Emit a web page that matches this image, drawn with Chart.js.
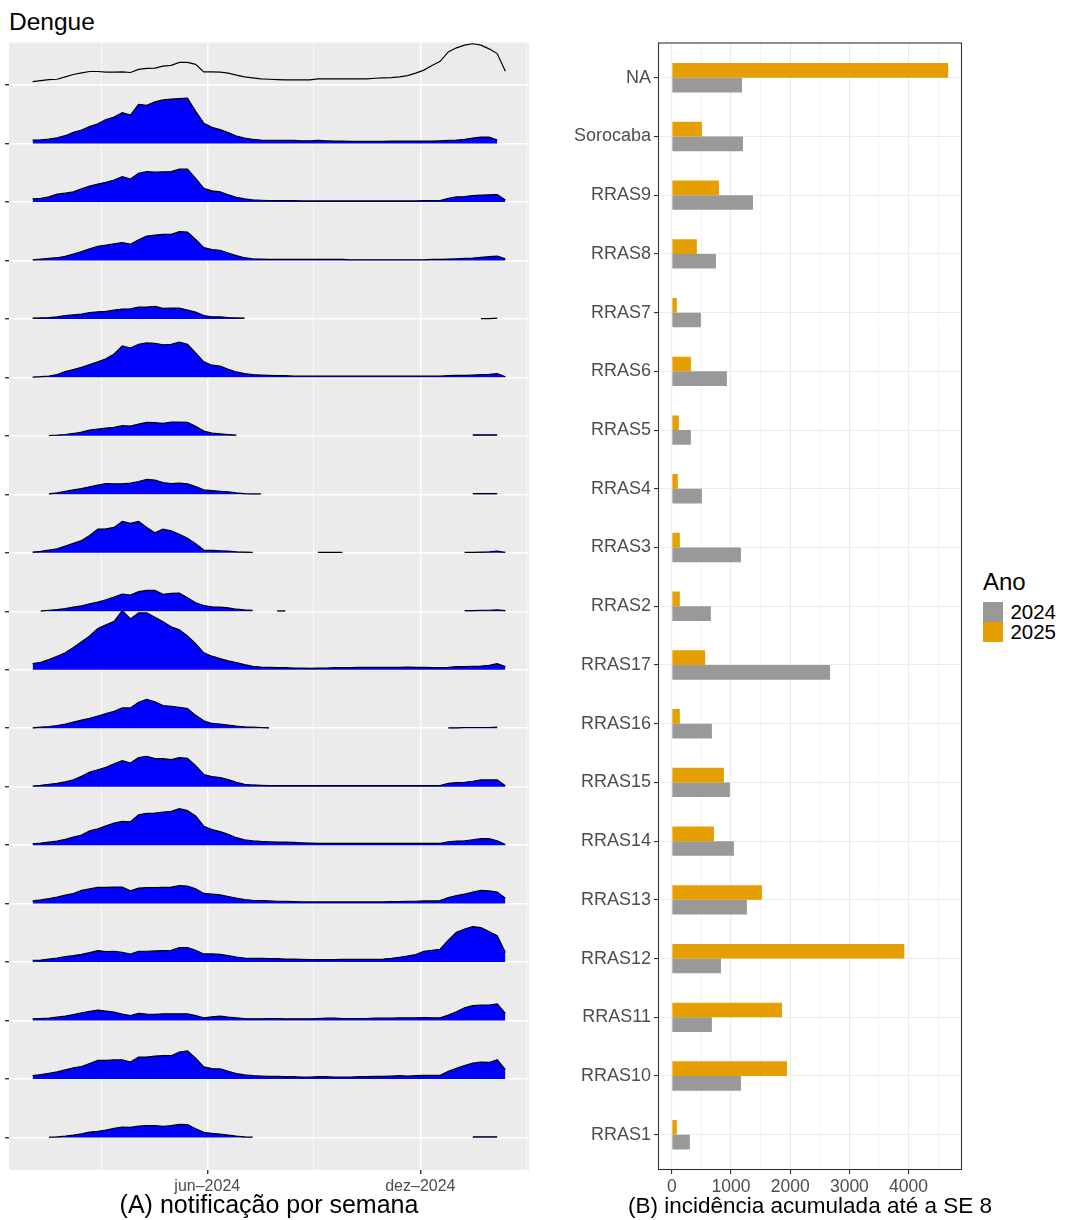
<!DOCTYPE html>
<html lang="pt-BR">
<head>
<meta charset="utf-8">
<title>Dengue</title>
<script src="https://cdn.jsdelivr.net/npm/chart.js@4.4.1/dist/chart.umd.min.js"></script>
<style>
  html, body { margin: 0; padding: 0; background: #ffffff; }
  body { width: 1065px; height: 1220px; position: relative; overflow: hidden;
         font-family: "Liberation Sans", Arial, Helvetica, sans-serif; }
  #title { position: absolute; left: 9px; top: 10.4px; font-size: 24.5px; line-height: 24.5px; color: #000; }
  #ridges { position: absolute; left: 0; top: 0; }
  #bars { position: absolute; left: 540px; top: 0; }
  #barsTitle { position: absolute; left: 510px; width: 600px; top: 1195px; text-align: center;
               font-size: 22.5px; line-height: 22.5px; color: #000; white-space: nowrap; }
  #legend { position: absolute; left: 983px; top: 570px; color: #000; }
  #legend .ltitle { font-size: 24px; line-height: 24px; margin-bottom: 7.9px; }
  #legend .item { display: flex; align-items: center; height: 20.3px; }
  #legend .key { width: 20px; height: 20px; margin-right: 7.4px; }
  #legend .lab { font-size: 20.5px; line-height: 20.3px; }
</style>
</head>
<body>
<div id="title">Dengue</div>
<canvas id="ridges" width="540" height="1220"></canvas>
<canvas id="bars" width="430" height="1220"></canvas>
<div id="barsTitle">(B) incidência acumulada até a SE 8</div>
<div id="legend"></div>
<script>
// Regions, top to bottom
const regions = ['NA', 'Sorocaba', 'RRAS9', 'RRAS8', 'RRAS7', 'RRAS6', 'RRAS5', 'RRAS4', 'RRAS3', 'RRAS2',
                 'RRAS17', 'RRAS16', 'RRAS15', 'RRAS14', 'RRAS13', 'RRAS12', 'RRAS11', 'RRAS10', 'RRAS1'];

// Cumulative incidence up to epidemiological week 8
const incid2024 = [1185, 1202, 1371, 745, 491, 931, 322, 508, 1168, 660, 2674, 677, 981, 1049, 1269, 830, 677, 1168, 305];
const incid2025 = [4669, 508, 796, 423, 85, 322, 119, 102, 135, 135, 564, 135, 880, 711, 1523, 3928, 1861, 1946, 85];
const incBreaks = [0, 1000, 2000, 3000, 4000];

// Weekly notifications (relative scale), first week centred on 2024-01-03
const firstWeek = '2024-01-03';
const dateBreaks = ['2024-06-01', '2024-12-01'];
const dateLabels = ['jun\u20132024', 'dez\u20132024'];
const _ = null;

const wNA = [10,13,16,17,24,31,36,40,40,38, 38,39,37,46,49,50,56,58,67,67, 61,39,39,38,35,29,24,21,18,17,
             16,15,15,15,15,18,18,18,18,18, 18,18,20,21,22,24,28,35,44,58, 70,98,110,118,122,118,107,93,41];
const wSorocaba = [10,11,13,17,23,33,40,50,58,71, 78,91,84,116,113,123,129,131,133,134, 95,60,48,41,32,22,16,12,10,9,
             9,9,9,8,8,9,8,7,7,6, 6,6,6,6,7,7,7,7,7,7, 8,9,10,12,16,19,19,10,_];
const wRRAS9 = [9,11,15,23,26,30,39,47,53,58, 65,75,68,85,90,88,89,90,97,97, 70,40,33,30,21,14,9,6,5,4,
             4,4,4,3,3,3,3,3,3,3, 3,3,3,3,3,3,3,3,4,4, 4,11,15,16,19,20,21,22,6];
const wRRAS8 = [2,4,6,8,12,19,26,34,42,45, 49,53,48,61,72,75,77,77,85,84, 62,38,32,30,22,14,8,5,4,3,
             3,3,3,3,3,3,3,3,3,2, 2,2,2,2,2,2,2,2,2,3, 3,4,5,6,7,9,11,13,5];
const wRRAS7 = [2,3,4,6,10,12,14,19,21,22, 26,29,30,35,35,37,31,32,32,26, 20,10,6,6,4,3,2,_,_,_,
             _,_,_,_,_,_,_,_,_,_, _,_,_,_,_,_,_,_,_,_, _,_,_,_,_,1,1,2,_];
const wRRAS6 = [1,2,4,8,17,23,30,38,46,55, 69,93,87,98,102,101,96,98,104,98, 72,46,36,33,24,16,11,8,7,6,
             5,5,4,4,4,4,4,4,4,4, 4,4,4,4,4,4,4,4,4,4, 4,5,6,6,7,8,9,11,2];
const wRRAS5 = [_,_,1,2,4,7,11,17,20,23, 25,30,29,35,40,39,37,41,41,40, 28,14,8,6,4,2,_,_,_,_,
             _,_,_,_,_,_,_,_,_,_, _,_,_,_,_,_,_,_,_,_, _,_,_,_,3,3,3,3,_];
const wRRAS4 = [_,_,1,4,9,13,17,22,27,32, 31,31,33,38,44,42,35,32,33,31, 23,13,11,9,7,4,2,1,1,_,
             _,_,_,_,_,_,_,_,_,_, _,_,_,_,_,_,_,_,_,_, _,_,_,_,2,2,2,2,_];
const wRRAS3 = [2,4,8,12,20,28,36,51,70,71, 75,93,87,93,75,59,70,65,55,43, 27,8,7,6,5,3,2,1,_,_,
             _,_,_,_,_,1,1,1,1,_, _,_,_,_,_,_,_,_,_,_, _,_,_,1,1,2,3,5,1];
const wRRAS2 = [_,1,3,5,8,12,16,22,27,34, 42,51,48,58,62,62,50,53,54,40, 25,17,13,12,10,6,4,3,_,_,
             1,1,_,_,_,_,_,_,_,_, _,_,_,_,_,_,_,_,_,_, _,_,_,2,2,3,3,4,2];
const wRRAS17 = [18,22,30,40,50,66,83,100,122,133, 143,175,150,168,168,155,142,127,118,100, 77,50,40,33,26,21,15,10,8,7,
             6,6,5,5,4,5,5,6,6,6, 7,7,7,7,7,7,8,7,7,6, 6,7,9,9,10,11,13,18,9];
const wRRAS16 = [1,3,5,8,12,18,24,29,36,43, 50,60,60,77,85,78,67,65,62,58, 38,22,14,12,9,6,4,3,2,1,
             _,_,_,_,_,_,_,_,_,_, _,_,_,_,_,_,_,_,_,_, _,1,1,2,2,2,2,3,_];
const wRRAS15 = [2,4,7,10,14,20,31,43,50,57, 68,77,70,86,90,83,83,80,86,84, 62,36,30,27,21,13,7,5,4,3,
             3,3,3,3,3,3,3,3,3,3, 3,3,3,3,3,3,3,3,3,3, 3,10,12,13,16,20,20,20,3];
const wRRAS14 = [4,6,9,12,17,24,30,42,48,57, 65,70,69,90,94,95,98,100,108,102, 86,56,46,40,32,22,16,13,11,10,
             9,9,8,7,6,5,5,5,5,5, 5,5,5,5,5,5,5,5,5,5, 5,10,12,13,16,19,19,13,2];
const wRRAS13 = [8,11,15,19,25,30,39,44,48,48, 49,49,38,46,47,47,48,49,53,52, 44,30,28,26,21,16,12,10,9,8,
             7,7,6,5,5,5,5,5,5,5, 5,5,5,5,6,6,7,7,8,8, 9,18,24,28,34,39,38,34,16];
const wRRAS12 = [5,6,9,12,16,19,23,28,34,31, 32,29,24,32,32,33,34,35,43,43, 35,24,24,23,19,15,12,11,11,10,
             10,9,9,8,7,7,7,7,8,8, 8,8,8,9,11,14,18,22,32,35, 38,65,88,98,105,102,90,78,28];
const wRRAS11 = [5,6,7,10,13,18,23,27,31,28, 25,19,15,21,19,18,20,20,20,20, 15,8,11,13,10,8,6,5,5,6,
             6,5,5,5,5,6,7,7,6,6, 6,6,7,7,7,8,8,8,9,8, 8,16,26,38,44,46,46,49,21];
const wRRAS10 = [10,13,17,21,27,33,37,46,55,55, 57,57,50,65,65,68,69,69,80,83, 62,36,31,30,23,16,12,10,9,8,
             8,7,7,6,6,7,7,6,6,6, 7,7,8,8,9,10,9,10,11,11, 11,23,32,40,47,50,49,57,28];
const wRRAS1 = [_,_,1,2,4,7,11,16,18,22, 27,31,30,34,35,35,33,35,39,38, 26,15,12,10,7,4,2,1,_,_,
             _,_,_,_,_,_,_,_,_,_, _,_,_,_,_,_,_,_,_,_, _,_,_,_,2,2,2,2,_];

// Same order as `regions`
const ridgeSeries = [wNA, wSorocaba, wRRAS9, wRRAS8, wRRAS7, wRRAS6, wRRAS5, wRRAS4, wRRAS3, wRRAS2,
                     wRRAS17, wRRAS16, wRRAS15, wRRAS14, wRRAS13, wRRAS12, wRRAS11, wRRAS10, wRRAS1];

// Weekly value that spans one row of the ridgeline panel
const ROW_SCALE = 173;

const FONT = '"Liberation Sans", Arial, Helvetica, sans-serif';
Chart.defaults.font.family = FONT;

const DAY_MS = 86400000;
const dayOf = iso => Math.round((Date.parse(iso) - Date.parse('2024-01-01')) / DAY_MS);
const weekDays = wNA.map((v, k) => dayOf(firstWeek) + 7 * k);
const majorDays = dateBreaks.map(dayOf);
const majorStep = majorDays[1] - majorDays[0];
const minorDays = [majorDays[0] - majorStep / 2 + 0.5, (majorDays[0] + majorDays[1]) / 2, majorDays[1] + majorStep / 2 - 0.5];
const dayLo = weekDays[0], dayHi = weekDays[weekDays.length - 1];
const dayPad = 0.05 * (dayHi - dayLo);

// Panel background (grey) and frame plugins
const panelBackground = {
  id: 'panelBackground',
  beforeDraw(chart, args, opts) {
    const { ctx, chartArea: a } = chart;
    ctx.save();
    ctx.fillStyle = opts.color;
    ctx.fillRect(a.left, a.top, a.right - a.left, a.bottom - a.top);
    ctx.restore();
  }
};
const panelBorder = {
  id: 'panelBorder',
  afterDatasetsDraw(chart, args, opts) {
    const { ctx, chartArea: a } = chart;
    ctx.save();
    ctx.strokeStyle = opts.color;
    ctx.lineWidth = opts.width;
    ctx.strokeRect(a.left + 0.5, a.top + 0.5, a.right - a.left - 1, a.bottom - a.top - 1);
    ctx.restore();
  }
};

// ---- (A) ridgeline of weekly notifications ----
const rows = regions.map((name, i) => ({ name, values: ridgeSeries[i], base: regions.length - 1 - i }));
// lower rows are listed first so they are painted over the rows above them
const ridgeDatasets = rows.slice().reverse().map(r => ({
  label: r.name,
  data: r.values.map((v, k) => ({ x: weekDays[k], y: v === null ? null : r.base + v / ROW_SCALE })),
  borderColor: '#000000',
  borderWidth: 1.2,
  backgroundColor: '#0000FF',
  fill: r.name === 'NA' ? false : { value: r.base },
  pointRadius: 0,
  tension: 0,
  spanGaps: false
}));

new Chart(document.getElementById('ridges'), {
  type: 'line',
  data: { datasets: ridgeDatasets },
  plugins: [panelBackground],
  options: {
    responsive: false,
    animation: false,
    events: [],
    layout: { padding: { top: 42.5, right: 11, bottom: 0, left: 0 } },
    plugins: {
      legend: { display: false },
      tooltip: { enabled: false },
      panelBackground: { color: '#EBEBEB' }
    },
    scales: {
      x: {
        type: 'linear',
        min: dayLo - dayPad,
        max: dayHi + dayPad,
        afterBuildTicks: s => { s.ticks = minorDays.concat(majorDays).sort((a, b) => a - b).map(v => ({ value: v })); },
        afterFit: s => { s.height = 50; },
        border: { display: false },
        grid: {
          color: '#FFFFFF',
          lineWidth: c => (c.tick && majorDays.includes(c.tick.value)) ? 1.4 : 0.7,
          tickLength: 4,
          tickColor: c => (c.tick && majorDays.includes(c.tick.value)) ? '#333333' : 'rgba(0,0,0,0)'
        },
        ticks: {
          autoSkip: false, maxRotation: 0, padding: 3,
          color: '#4D4D4D', font: { size: 16 },
          callback: v => { const i = majorDays.indexOf(v); return i >= 0 ? dateLabels[i] : ''; }
        },
        title: {
          display: true, text: '(A) notifica\u00e7\u00e3o por semana', color: '#000000',
          font: { size: 25, lineHeight: 1 }, padding: { top: 0, bottom: 1 }
        }
      },
      y: {
        type: 'linear',
        min: -0.556,
        max: regions.length - 1 + 0.727,
        afterBuildTicks: s => { s.ticks = regions.map((n, i) => ({ value: i })); },
        afterFit: s => { s.width = 9; },
        border: { display: false },
        grid: { color: '#FFFFFF', lineWidth: 1.4, tickLength: 4, tickColor: '#333333' },
        ticks: { display: false }
      }
    }
  }
});

// ---- (B) cumulative incidence bars ----
const incMax = Math.max(...incid2024, ...incid2025);
const incStep = incBreaks[1] - incBreaks[0];
const incGrid = [];
incBreaks.forEach(b => { incGrid.push(b); if (b + incStep / 2 <= incMax * 1.05) incGrid.push(b + incStep / 2); });

const barChart = new Chart(document.getElementById('bars'), {
  type: 'bar',
  data: {
    datasets: [
      { label: '2025', data: incid2025.map((v, i) => ({ x: v, y: i })), backgroundColor: '#E69F00' },
      { label: '2024', data: incid2024.map((v, i) => ({ x: v, y: i })), backgroundColor: '#999999' }
    ]
  },
  plugins: [panelBorder],
  options: {
    indexAxis: 'y',
    responsive: false,
    animation: false,
    events: [],
    layout: { padding: { top: 42.5, right: 8, bottom: 0, left: 0 } },
    datasets: { bar: { categoryPercentage: 0.5, barPercentage: 1.0, borderWidth: 0 } },
    plugins: {
      legend: { display: false },
      tooltip: { enabled: false },
      panelBorder: { color: '#333333', width: 1.1 }
    },
    scales: {
      x: {
        type: 'linear',
        min: -0.05 * incMax,
        max: 1.05 * incMax,
        afterBuildTicks: s => { s.ticks = incGrid.map(v => ({ value: v })); },
        afterFit: s => { s.height = 50; },
        border: { display: false },
        grid: {
          color: '#EBEBEB',
          lineWidth: c => (c.tick && incBreaks.includes(c.tick.value)) ? 1.1 : 0.55,
          tickLength: 4,
          tickColor: c => (c.tick && incBreaks.includes(c.tick.value)) ? '#333333' : 'rgba(0,0,0,0)'
        },
        ticks: {
          autoSkip: false, maxRotation: 0, padding: 3,
          color: '#4D4D4D', font: { size: 17.5 },
          callback: v => incBreaks.includes(v) ? String(v) : ''
        },
        title: { display: false }
      },
      y: {
        type: 'linear',
        reverse: true,
        offset: false,
        min: -0.6,
        max: regions.length - 1 + 0.6,
        afterBuildTicks: s => { s.ticks = regions.map((n, i) => ({ value: i })); },
        afterFit: s => { s.width = 118; },
        border: { display: false },
        grid: { offset: false, color: '#EBEBEB', lineWidth: 1.1, tickLength: 4, tickColor: '#333333' },
        ticks: {
          autoSkip: false, padding: 3, color: '#4D4D4D', font: { size: 18 },
          callback: v => regions[v]
        }
      }
    }
  }
});

// Legend for the year fill
(function buildLegend() {
  const box = document.getElementById('legend');
  const t = document.createElement('div');
  t.className = 'ltitle';
  t.textContent = 'Ano';
  box.appendChild(t);
  barChart.data.datasets.slice().sort((a, b) => a.label.localeCompare(b.label)).forEach(ds => {
    const item = document.createElement('div');
    item.className = 'item';
    const key = document.createElement('span');
    key.className = 'key';
    key.style.background = ds.backgroundColor;
    const lab = document.createElement('span');
    lab.className = 'lab';
    lab.textContent = ds.label;
    item.appendChild(key);
    item.appendChild(lab);
    box.appendChild(item);
  });
})();
</script>
</body>
</html>
